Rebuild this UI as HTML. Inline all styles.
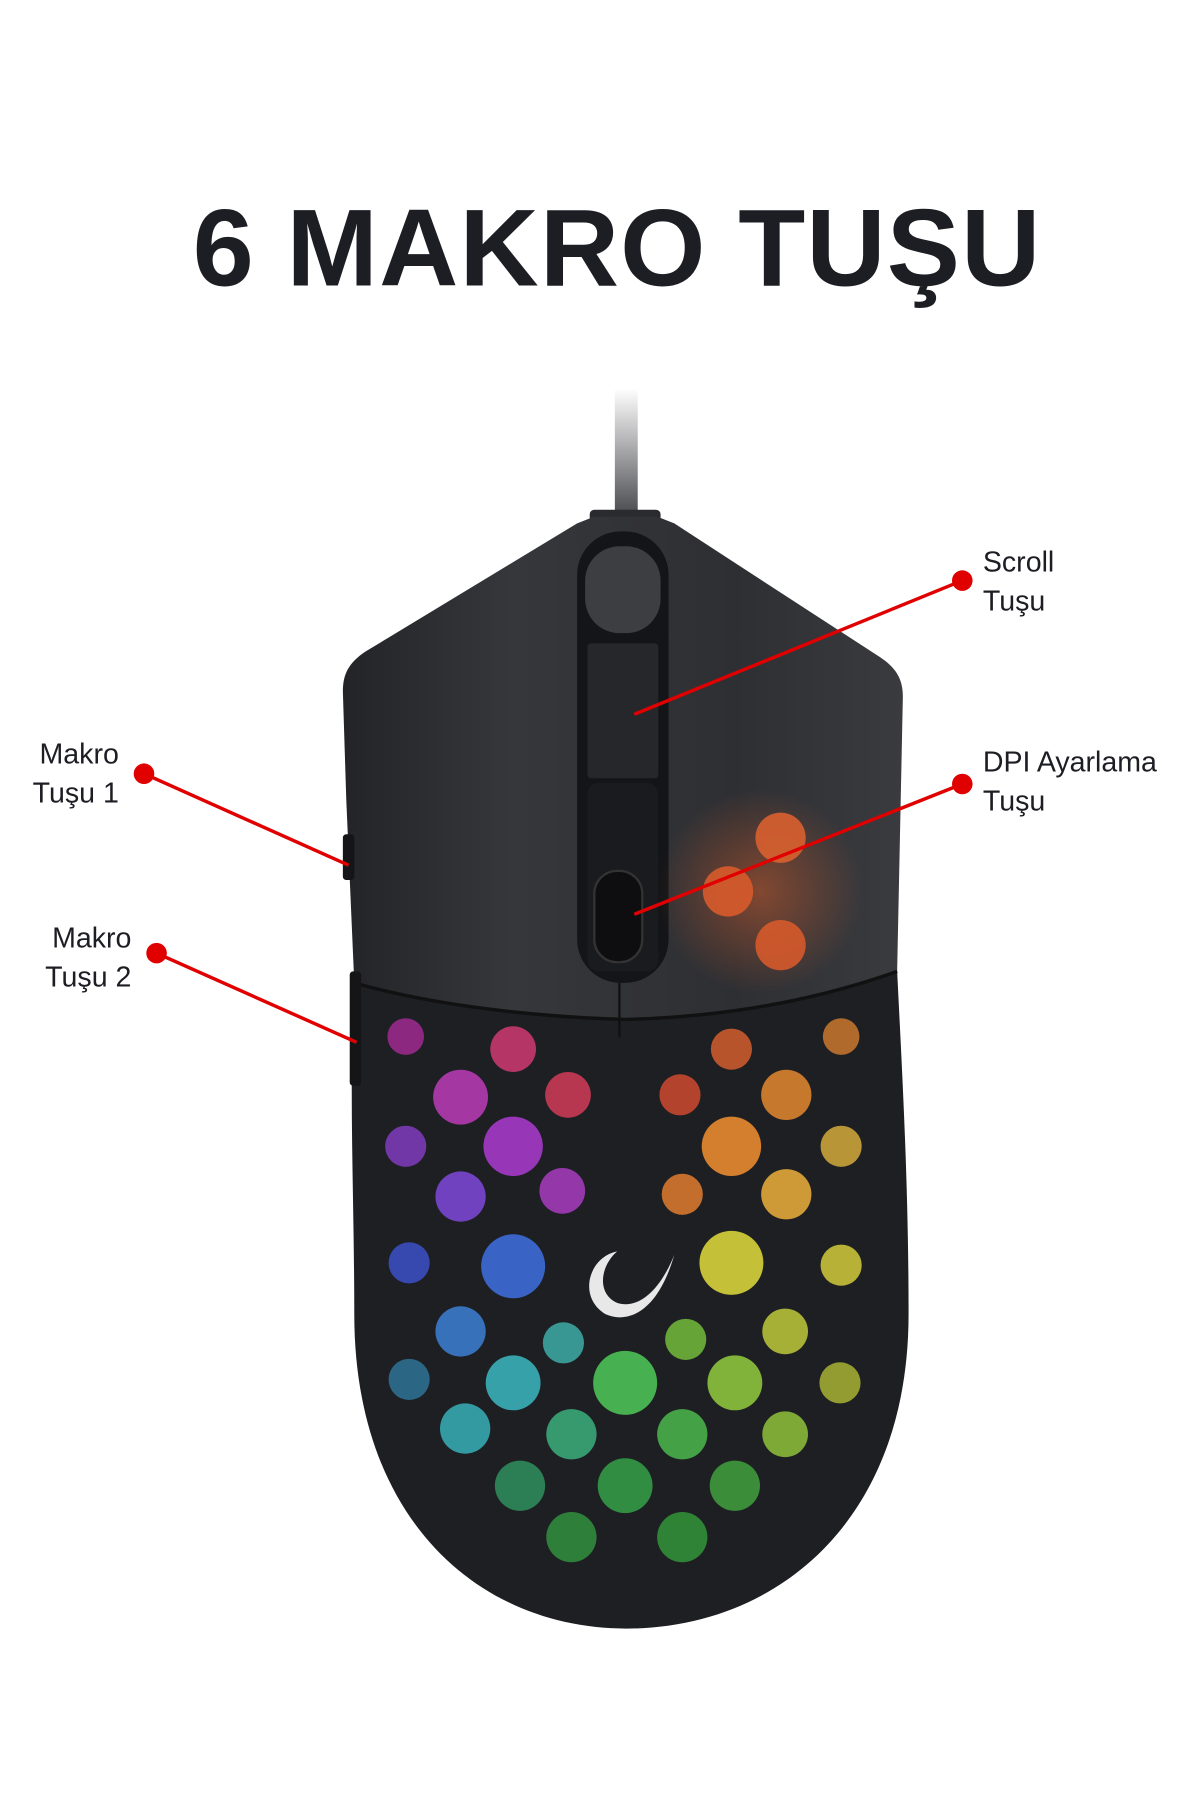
<!DOCTYPE html>
<html><head><meta charset="utf-8"><style>
html,body{margin:0;padding:0;background:#fff;}
svg{display:block}
</style></head><body>
<svg width="1200" height="1800" viewBox="0 0 1050 1575" xmlns="http://www.w3.org/2000/svg">
<defs>
<linearGradient id="cable" x1="0" y1="0" x2="0" y2="1"><stop offset="0" stop-color="#fff"/><stop offset="1" stop-color="#3a3b3f"/></linearGradient>
<radialGradient id="glow" cx="0.5" cy="0.5" r="0.5"><stop offset="0" stop-color="#ff6a2a" stop-opacity="0.4"/><stop offset="1" stop-color="#ff6a2a" stop-opacity="0"/></radialGradient>
<linearGradient id="top" x1="0" y1="0" x2="1" y2="0"><stop offset="0" stop-color="#232428"/><stop offset="0.3" stop-color="#36373b"/><stop offset="0.7" stop-color="#2e2f33"/><stop offset="1" stop-color="#3a3b3f"/></linearGradient>
</defs>
<text x="540" y="250" text-anchor="middle" font-family="Liberation Sans, sans-serif" font-weight="bold" font-size="96" fill="#1d1e24" letter-spacing="1">6 MAKRO TUŞU</text>
<rect x="538" y="340" width="20" height="120" fill="url(#cable)"/>
<rect x="516" y="446" width="62" height="14" rx="4" fill="#2a2b2f"/>
<path d="M310 860 C305 950 310 1050 310 1150 C310 1330 420 1425 548 1425 C680 1425 795 1330 795 1150 C795 1040 790 950 785 850 Z" fill="#1e1f23"/>
<path d="M300 605 C300 590 305 580 320 570 L505 458 L520 452 L575 452 L590 458 L770 575 C785 585 790 595 790 610 L785 850 C700 880 620 890 548 892 C470 890 380 880 310 860 L303 700 Z" fill="url(#top)"/>
<path d="M310 860 C380 880 470 890 548 892 C620 890 700 880 785 850" stroke="#111" stroke-width="3" fill="none"/>
<rect x="300" y="730" width="10" height="40" rx="3" fill="#151518"/>
<rect x="306" y="850" width="10" height="100" rx="3" fill="#151518"/>
<rect x="505" y="465" width="80" height="395" rx="38" fill="#141518"/>
<rect x="512" y="478" width="66" height="76" rx="30" fill="#3d3e42"/>
<rect x="514" y="563" width="62" height="118" rx="3" fill="#26272b"/>
<rect x="514" y="685" width="62" height="165" rx="10" fill="#1a1b1e"/>
<rect x="520" y="762" width="42" height="80" rx="20" fill="#0e0e10" stroke="#333" stroke-width="2"/>
<line x1="542" y1="860" x2="542" y2="908" stroke="#111" stroke-width="2"/>
<circle cx="665" cy="780" r="90" fill="url(#glow)"/>
<g opacity="0.9">
<circle cx="683" cy="733" r="22" fill="#d9602f"/><circle cx="637" cy="780" r="22" fill="#d85b2c"/><circle cx="683" cy="827" r="22" fill="#d65a2b"/>
<circle cx="355" cy="907" r="16" fill="#9a2a8c"/><circle cx="449" cy="918" r="20" fill="#c6386f"/><circle cx="403" cy="960" r="24" fill="#b33ab0"/><circle cx="497" cy="958" r="20" fill="#c83a55"/>
<circle cx="355" cy="1003" r="18" fill="#7a3ab5"/><circle cx="449" cy="1003" r="26" fill="#a53ac9"/><circle cx="403" cy="1047" r="22" fill="#7a46d0"/><circle cx="492" cy="1042" r="20" fill="#a03ab8"/>
<circle cx="358" cy="1105" r="18" fill="#3a4dbf"/><circle cx="449" cy="1108" r="28" fill="#3c6cd8"/><circle cx="403" cy="1165" r="22" fill="#3a7acb"/><circle cx="358" cy="1207" r="18" fill="#2e6e90"/>
<circle cx="449" cy="1210" r="24" fill="#3ab0b8"/><circle cx="493" cy="1175" r="18" fill="#3ba5a0"/><circle cx="407" cy="1250" r="22" fill="#36a8b0"/>
<circle cx="547" cy="1210" r="28" fill="#4cc055"/><circle cx="600" cy="1172" r="18" fill="#6fb33a"/><circle cx="597" cy="1255" r="22" fill="#4ab04a"/><circle cx="643" cy="1210" r="24" fill="#8cc23c"/>
<circle cx="500" cy="1255" r="22" fill="#3aa877"/><circle cx="455" cy="1300" r="22" fill="#2e8a5a"/><circle cx="547" cy="1300" r="24" fill="#349a45"/><circle cx="643" cy="1300" r="22" fill="#3f9a3c"/>
<circle cx="500" cy="1345" r="22" fill="#2f8a3c"/><circle cx="597" cy="1345" r="22" fill="#318e38"/><circle cx="687" cy="1255" r="20" fill="#8ab83a"/><circle cx="735" cy="1210" r="18" fill="#a0aa33"/><circle cx="687" cy="1165" r="20" fill="#b5c03a"/>
<circle cx="640" cy="1105" r="28" fill="#d6d23a"/><circle cx="736" cy="1107" r="18" fill="#c8c23a"/><circle cx="688" cy="1045" r="22" fill="#e0a83a"/><circle cx="736" cy="1003" r="18" fill="#c9a23a"/>
<circle cx="640" cy="1003" r="26" fill="#e88a30"/><circle cx="597" cy="1045" r="18" fill="#d5772e"/><circle cx="595" cy="958" r="18" fill="#c4472e"/><circle cx="688" cy="958" r="22" fill="#d9822f"/>
<circle cx="640" cy="918" r="18" fill="#c85a2e"/><circle cx="736" cy="907" r="16" fill="#c0732e"/>
</g>
<path d="M540 1095 C515 1100 505 1135 530 1150 C548 1158 575 1150 590 1098 C575 1135 555 1145 540 1140 C522 1132 525 1108 540 1095 Z" fill="#e8e8e8"/>
<g stroke="#e00000" stroke-width="3" fill="none">
<line x1="842" y1="508" x2="555" y2="625"/>
<line x1="842" y1="686" x2="555" y2="800"/>
<line x1="126" y1="677" x2="305" y2="757"/>
<line x1="137" y1="834" x2="312" y2="912"/>
</g>
<g fill="#e00000"><circle cx="842" cy="508" r="9"/><circle cx="842" cy="686" r="9"/><circle cx="126" cy="677" r="9"/><circle cx="137" cy="834" r="9"/></g>
<g font-family="Liberation Sans, sans-serif" font-size="25" fill="#1d1e24">
<text x="860" y="500">Scroll</text><text x="860" y="534">Tuşu</text>
<text x="860" y="675">DPI Ayarlama</text><text x="860" y="709">Tuşu</text>
<text x="104" y="668" text-anchor="end">Makro</text><text x="104" y="702" text-anchor="end">Tuşu 1</text>
<text x="115" y="829" text-anchor="end">Makro</text><text x="115" y="863" text-anchor="end">Tuşu 2</text>
</g>
</svg>
</body></html>
